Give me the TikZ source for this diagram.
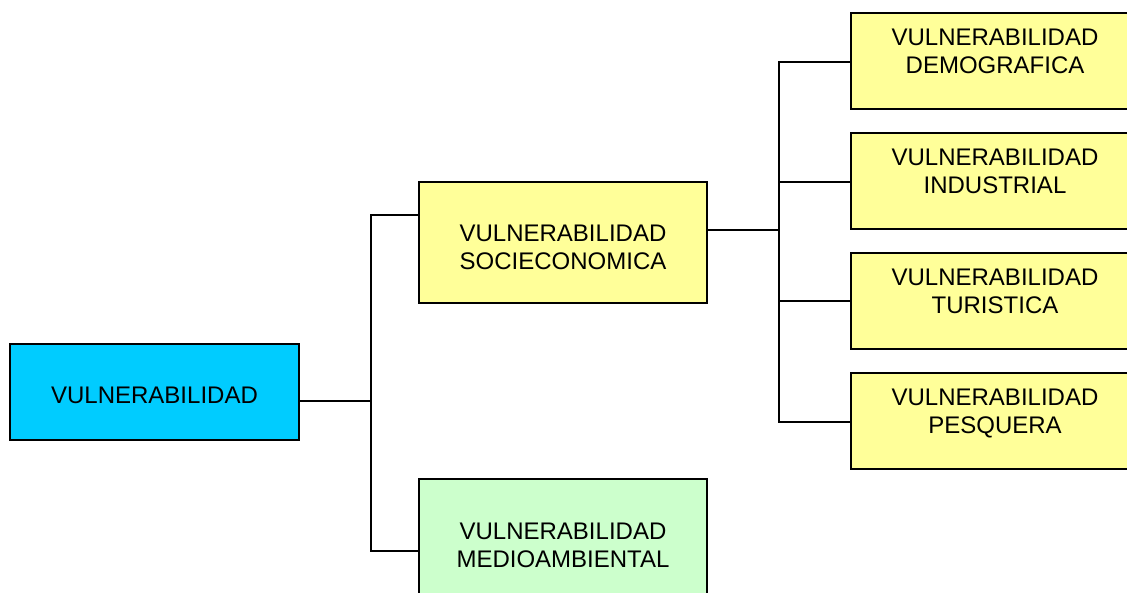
\documentclass[tikz,border=0pt]{standalone}
\usepackage{fontspec}
\setmainfont{Liberation Sans}
\definecolor{cblue}{HTML}{00CCFF}
\definecolor{cyel}{HTML}{FFFF99}
\definecolor{cgrn}{HTML}{CCFFCC}
\begin{document}
\begin{tikzpicture}[x=1pt,y=-1pt,
  box/.style={draw=black, line width=1.8pt, rectangle, inner sep=0pt, minimum width=288pt},
  lowbox/.style={box, minimum height=96pt},
  tallbox/.style={box, minimum height=121pt},
  txt/.style={anchor=north, inner sep=0pt, align=center, font=\fontsize{24}{27.5}\selectfont},
  conn/.style={draw=black, line width=1.8pt}]
\useasboundingbox (0,0) rectangle (1127,592);
\clip (0,0) rectangle (1127,592);
% boxes
\node[lowbox, fill=cblue, minimum width=289pt] (root) at (154.5,392) {};
\node[tallbox, fill=cyel] (socio) at (563,242.5) {};
\node[tallbox, fill=cgrn, minimum height=122pt] (medio) at (563,540) {};
\node[lowbox, fill=cyel] (dem) at (995,61) {};
\node[lowbox, fill=cyel] (ind) at (995,181) {};
\node[lowbox, fill=cyel] (tur) at (995,301) {};
\node[lowbox, fill=cyel] (pes) at (995,421) {};
% texts
\node[txt] (roott) at ([yshift=-43.5pt]root.north) {VULNERABILIDAD};
\node[txt] (sociot) at ([yshift=-44pt]socio.north) {VULNERABILIDAD\\SOCIECONOMICA};
\node[txt] (mediot) at ([yshift=-45pt]medio.north) {VULNERABILIDAD\\MEDIOAMBIENTAL};
\node[txt] (demt) at ([yshift=-16.8pt]dem.north) {VULNERABILIDAD\\DEMOGRAFICA};
\node[txt] (indt) at ([yshift=-16.8pt]ind.north) {VULNERABILIDAD\\INDUSTRIAL};
\node[txt] (turt) at ([yshift=-16.8pt]tur.north) {VULNERABILIDAD\\TURISTICA};
\node[txt] (pest) at ([yshift=-16.8pt]pes.north) {VULNERABILIDAD\\PESQUERA};
% connectors
\coordinate (j1) at (371,401);
\coordinate (j2) at (779,230);
\draw[conn] ([yshift=-9pt]root.east) -- (j1);
\draw[conn] ([yshift=27.5pt]socio.west) -| (j1) |- ([yshift=-11pt]medio.west);
\draw[conn] ([yshift=12.5pt]socio.east) -- (j2);
\draw[conn] ([yshift=-1pt]dem.west) -| (j2) |- ([yshift=-1pt]pes.west);
\draw[conn] ([yshift=-1pt]ind.west) -- ([yshift=-1pt]ind.west -| j2);
\draw[conn] (tur.west) -- (tur.west -| j2);
\end{tikzpicture}
\end{document}
